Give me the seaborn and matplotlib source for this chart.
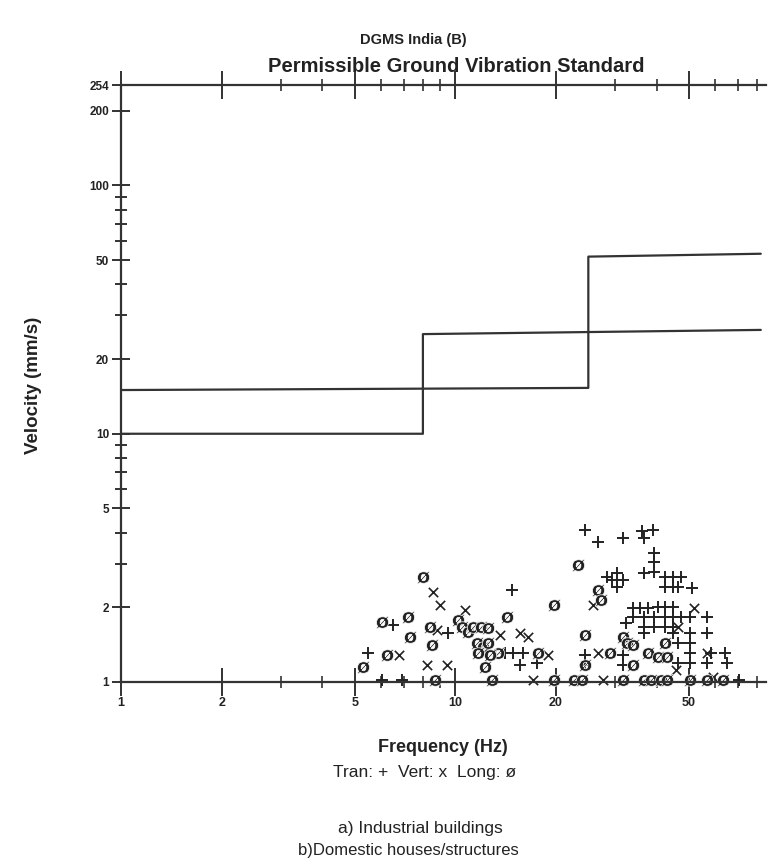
import matplotlib
matplotlib.use("Agg")
import matplotlib.pyplot as plt
import seaborn as sns
import pandas as pd

# Standard limit lines (step shapes)
line_a_freq = [1, 8, 8, 82]
line_a_vel = [10, 10, 25.2, 26.2]
line_b_freq = [1, 25, 25, 82]
line_b_vel = [15, 15.3, 51.7, 53.1]

# Tran (+) readings
tran_freq = [5.49, 6.52, 9.53, 6.05, 6.94, 14.8, 14.1, 14.9, 15.9, 15.6, 17.6,
             24.5, 26.8, 31.8, 36.3, 38.9, 36.6, 39.2, 39.2, 39.2, 36.6,
             28.5, 30.5, 31.8, 30.5, 29.5, 42.5, 44.9, 47.2, 42.5, 44.9, 46.5, 51.2,
             34.1, 35.8, 37.6, 40.3, 42.5, 44.9,
             34.1, 36.6, 39.2, 42.5, 44.9, 47.2, 50.5, 56.8,
             36.6, 39.2, 42.5, 44.9,
             36.6, 44.9, 50.5, 56.8,
             46.3, 50.5,
             50.5, 58.0, 64.3,
             46.5, 50.5, 56.8, 65.0,
             32.3, 31.8, 31.8, 24.5, 24.5, 70.4]
tran_vel = [1.31, 1.70, 1.58, 1.02, 1.02, 2.35, 1.31, 1.31, 1.31, 1.17, 1.19,
            4.11, 3.68, 3.82, 4.04, 4.11, 3.82, 3.32, 3.03, 2.78, 2.76,
            2.66, 2.76, 2.58, 2.42, 2.58, 2.66, 2.66, 2.66, 2.42, 2.42, 2.42, 2.40,
            1.99, 1.99, 1.99, 2.01, 2.01, 2.01,
            1.83, 1.83, 1.83, 1.83, 1.83, 1.83, 1.83, 1.83,
            1.67, 1.67, 1.67, 1.67,
            1.58, 1.58, 1.58, 1.58,
            1.44, 1.44,
            1.31, 1.31, 1.31,
            1.19, 1.19, 1.19, 1.19,
            1.73, 1.29, 1.17, 1.29, 1.17, 1.02]

# Vert (x) readings
vert_freq = [8.59, 9.02, 8.84, 8.25, 9.46, 10.7, 13.6, 16.5, 15.6, 17.1, 19.0,
             25.9, 26.8, 27.7, 46.5, 51.6, 56.8, 59.2, 45.6, 6.8]
vert_vel = [2.31, 2.05, 1.62, 1.17, 1.17, 1.95, 1.55, 1.52, 1.58, 1.02, 1.29,
            2.05, 1.31, 1.02, 1.67, 1.99, 1.31, 1.05, 1.12, 1.29]

# Long (ø) readings
long_freq = [8.02, 6.05, 7.23, 7.33, 8.42, 8.53, 6.26, 5.30, 8.71,
             10.2, 10.5, 10.9, 11.3, 11.9, 12.5, 11.6, 12.1, 12.5, 11.7, 13.4, 12.7,
             12.3, 12.9, 14.3, 17.7, 19.7, 19.7, 22.6, 24.0, 23.3, 24.5, 24.5,
             26.8, 27.2, 29.1, 31.8, 32.7, 34.1, 34.1, 31.8, 36.6, 38.4, 41.1, 43.1,
             37.6, 40.3, 43.1, 42.5, 50.5, 56.8, 63.4]
long_vel = [2.66, 1.75, 1.83, 1.52, 1.67, 1.41, 1.29, 1.15, 1.02,
            1.78, 1.67, 1.59, 1.67, 1.67, 1.65, 1.44, 1.38, 1.44, 1.31, 1.31, 1.29,
            1.15, 1.02, 1.83, 1.31, 2.05, 1.02, 1.02, 1.02, 2.97, 1.55, 1.17,
            2.35, 2.14, 1.31, 1.52, 1.44, 1.41, 1.17, 1.02, 1.02, 1.02, 1.02, 1.02,
            1.31, 1.26, 1.26, 1.44, 1.02, 1.02, 1.02]

x_ticks = [1, 2, 5, 10, 20, 50]
y_ticks = [1, 2, 5, 10, 20, 50, 100, 200, 254]

sns.set_theme(style="ticks")
plt.rcParams["font.family"] = ["Liberation Sans", "DejaVu Sans"]
plt.rcParams["mathtext.fontset"] = "dejavusans"
ink = "#222222"

fig = plt.figure(figsize=(7.7, 8.68), dpi=100)
ax = fig.add_axes([121 / 770, 1 - 682 / 868, (766 - 121) / 770, (682 - 85) / 868])
ax.set_xscale("log")
ax.set_yscale("log")

# limit lines
for fx, vy in [(line_a_freq, line_a_vel), (line_b_freq, line_b_vel)]:
    sns.lineplot(x=fx, y=vy, sort=False, estimator=None, color="#333333",
                 linewidth=1.6, ax=ax, legend=False)

# readings
sns.scatterplot(x=tran_freq, y=tran_vel, marker="+", s=75, color=ink,
                linewidth=1.4, ax=ax, clip_on=False, legend=False)
sns.scatterplot(x=vert_freq, y=vert_vel, marker="x", s=45, color=ink,
                linewidth=1.2, ax=ax, clip_on=False, legend=False)
sns.scatterplot(x=long_freq, y=long_vel, marker=r"$\mathbf{ø}$", s=85, color=ink,
                linewidth=0.5, ax=ax, clip_on=False, legend=False)

ax.set_xlim(1, 85)
ax.set_ylim(1, 254)
ax.set_xticks(x_ticks)
ax.set_xticklabels([str(t) for t in x_ticks])
ax.set_yticks(y_ticks)
ax.set_yticklabels([str(t) for t in y_ticks])

ax.spines["right"].set_visible(False)
for side in ["left", "bottom", "top"]:
    ax.spines[side].set_linewidth(1.6)
    ax.spines[side].set_color("#333333")

ax.tick_params(axis="x", which="major", direction="inout", length=20, width=1.3,
               top=True, labeltop=False, labelsize=9, pad=1, colors=ink)
ax.tick_params(axis="x", which="minor", direction="inout", length=8, width=1.1,
               top=True, colors=ink)
ax.tick_params(axis="y", which="major", direction="inout", length=13, width=1.3,
               labelsize=8.5, pad=2, colors=ink)
ax.tick_params(axis="y", which="minor", direction="inout", length=9, width=1.3,
               colors=ink)
for lab in ax.get_xticklabels() + ax.get_yticklabels():
    lab.set_fontweight("bold")

ax.set_xlabel("")
ax.set_ylabel("")

# titles and captions
fig.text(413 / 770, 1 - 40 / 868, "DGMS India (B)", ha="center", va="center",
         fontsize=10.5, fontweight="bold", color=ink)
fig.text(456 / 770, 1 - 67 / 868, "Permissible Ground Vibration Standard",
         ha="center", va="center", fontsize=14.5, fontweight="bold", color=ink)
fig.text(33 / 770, 1 - 385 / 868, "Velocity (mm/s)", rotation=90, ha="center",
         va="center", fontsize=13.5, fontweight="bold", color=ink)
fig.text(443 / 770, 1 - 747 / 868, "Frequency (Hz)", ha="center", va="center",
         fontsize=13, fontweight="bold", color=ink)
fig.text(425 / 770, 1 - 772 / 868, "Tran: +  Vert: x  Long: ø", ha="center",
         va="center", fontsize=12.5, color=ink)
fig.text(420 / 770, 1 - 828 / 868, "a) Industrial buildings", ha="center",
         va="center", fontsize=12.5, color=ink)
fig.text(408 / 770, 1 - 851 / 868, "b)Domestic houses/structures", ha="center",
         va="center", fontsize=12, color=ink)

fig.savefig("out.png", dpi=100, facecolor="white")
